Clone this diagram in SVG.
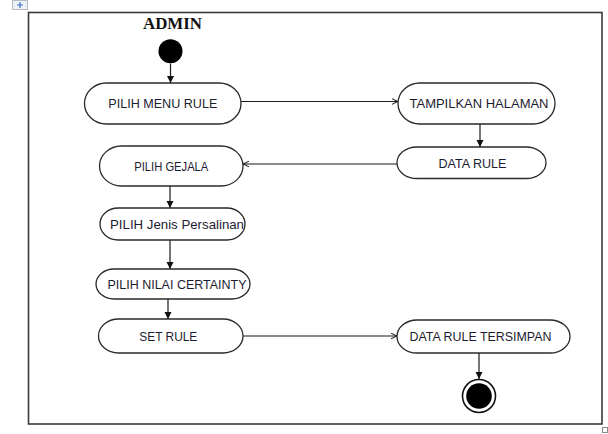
<svg xmlns="http://www.w3.org/2000/svg" width="608" height="434" viewBox="0 0 608 434">
  <style>
    .frame { fill: #ffffff; stroke: #3a3a3a; stroke-width: 1.6; }
    .act { fill: #ffffff; stroke: #2a2a2a; stroke-width: 1.3; }
    .lbl { font-family: "Liberation Sans", Arial, sans-serif; font-size: 13.5px; fill: #1c1c30; text-anchor: middle; }
    .title { font-family: "Liberation Serif", "Times New Roman", serif; font-size: 17px; font-weight: bold; fill: #111111; text-anchor: middle; }
    .edge { fill: none; stroke: #1a1a1a; stroke-width: 1.2; }
  </style>
  <defs>
    <marker id="solid" viewBox="0 0 10 10" refX="10" refY="5" markerWidth="7" markerHeight="8" markerUnits="userSpaceOnUse" orient="auto">
      <path d="M0,0 L10,5 L0,10 Z" fill="#111111"/>
    </marker>
    <marker id="open" viewBox="0 0 10 10" refX="9.5" refY="5" markerWidth="7" markerHeight="7" markerUnits="userSpaceOnUse" orient="auto">
      <path d="M1,1 L9.5,5 L1,9" fill="none" stroke="#111111" stroke-width="1.4"/>
    </marker>
  </defs>

  <!-- editor handles -->
  <rect x="12.5" y="0.5" width="15" height="9" fill="#eef1f6" stroke="#b8bcc4" stroke-width="1"/>
  <path d="M20 2 V8 M17 5 H23" stroke="#3a6fc4" stroke-width="1.2"/>
  <rect x="602.5" y="427.5" width="5" height="5" fill="#ffffff" stroke="#8a8a8a" stroke-width="1"/>

  <!-- swimlane frame -->
  <rect class="frame" x="28.5" y="12.5" width="573.5" height="411.5"/>
  <text class="title" x="172.5" y="28.5" textLength="59" lengthAdjust="spacingAndGlyphs">ADMIN</text>

  <!-- connectors -->
  <g id="connectors">
    <line class="edge" x1="170.5" y1="63.5" x2="170.5" y2="83" marker-end="url(#solid)"/>
    <line class="edge" x1="241" y1="101.5" x2="398" y2="101.5" marker-end="url(#open)"/>
    <line class="edge" x1="480" y1="124" x2="480" y2="147" marker-end="url(#solid)"/>
    <line class="edge" x1="397" y1="164" x2="243" y2="164" marker-end="url(#open)"/>
    <line class="edge" x1="170" y1="186" x2="170" y2="208" marker-end="url(#solid)"/>
    <line class="edge" x1="170" y1="240" x2="170" y2="269" marker-end="url(#solid)"/>
    <line class="edge" x1="168" y1="299" x2="168" y2="319" marker-end="url(#solid)"/>
    <line class="edge" x1="243" y1="336" x2="397" y2="336" marker-end="url(#open)"/>
    <line class="edge" x1="479" y1="353" x2="479" y2="379" marker-end="url(#solid)"/>
  </g>

  <!-- start -->
  <g id="start">
    <circle cx="170.5" cy="51.3" r="12" fill="#000000"/>
  </g>

  <g id="pilih-menu-rule">
    <rect class="act" x="84.5" y="83" width="156.5" height="41" rx="22" ry="20.5"/>
    <text class="lbl" x="162.8" y="108" textLength="109" lengthAdjust="spacingAndGlyphs">PILIH MENU RULE</text>
  </g>

  <g id="tampilkan-halaman">
    <rect class="act" x="398" y="83" width="157" height="41" rx="22" ry="20.5"/>
    <text class="lbl" x="479" y="108" textLength="139" lengthAdjust="spacingAndGlyphs">TAMPILKAN HALAMAN</text>
  </g>

  <g id="data-rule">
    <rect class="act" x="397" y="147" width="149" height="31.5" rx="20" ry="15.75"/>
    <text class="lbl" x="472.5" y="167.5" textLength="68" lengthAdjust="spacingAndGlyphs">DATA RULE</text>
  </g>

  <g id="pilih-gejala">
    <rect class="act" x="99.5" y="146" width="143.5" height="40" rx="22" ry="20"/>
    <text class="lbl" x="171.3" y="170.5" textLength="74" lengthAdjust="spacingAndGlyphs">PILIH GEJALA</text>
  </g>

  <g id="pilih-jenis-persalinan">
    <rect class="act" x="100" y="208" width="145" height="32" rx="18" ry="16"/>
    <text class="lbl" x="177" y="228.5" textLength="134" lengthAdjust="spacingAndGlyphs">PILIH Jenis Persalinan</text>
  </g>

  <g id="pilih-nilai-certainty">
    <rect class="act" x="96" y="269" width="154" height="30" rx="18" ry="15"/>
    <text class="lbl" x="177" y="289" textLength="139" lengthAdjust="spacingAndGlyphs">PILIH NILAI CERTAINTY</text>
  </g>

  <g id="set-rule">
    <rect class="act" x="98.5" y="319" width="144.5" height="34" rx="20" ry="17"/>
    <text class="lbl" x="168.3" y="341" textLength="58" lengthAdjust="spacingAndGlyphs">SET RULE</text>
  </g>

  <g id="data-rule-tersimpan">
    <rect class="act" x="397" y="320" width="173" height="33" rx="20" ry="16.5"/>
    <text class="lbl" x="480.5" y="341" textLength="142" lengthAdjust="spacingAndGlyphs">DATA RULE TERSIMPAN</text>
  </g>

  <!-- end -->
  <g id="end">
    <circle cx="479" cy="396" r="16.5" fill="#ffffff" stroke="#111111" stroke-width="1.6"/>
    <circle cx="479" cy="396" r="12.8" fill="#000000"/>
  </g>
</svg>
